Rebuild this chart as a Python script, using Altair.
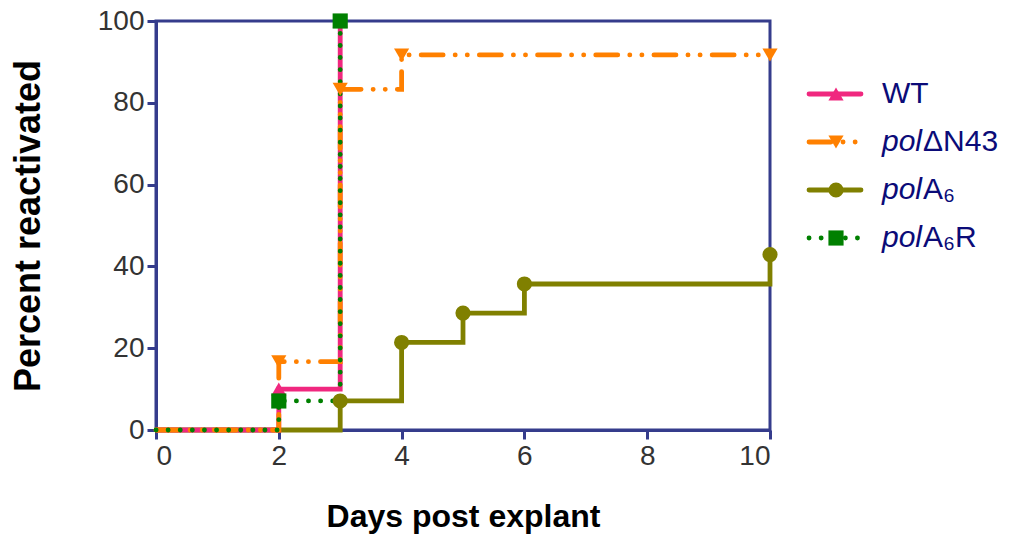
import altair as alt
import pandas as pd

# ---- data ----
series_order = ["WT", "polΔN43", "polA6", "polA6R"]
days_wt = [0, 2, 3]
pct_wt = [0, 10, 100]
days_dn43 = [0, 2, 3, 4, 10]
pct_dn43 = [0, 16.7, 83.3, 91.7, 91.7]
days_a6 = [0, 3, 4, 5, 6, 10]
pct_a6 = [0, 7.1, 21.4, 28.6, 35.7, 42.9]
days_a6r = [0, 2, 3]
pct_a6r = [0, 7.1, 100]

legend_prefix = ["", "pol", "pol", "pol"]
legend_rest = ["WT", "ΔN43", "A₆", "A₆R"]

colors = ["#F0287F", "#FF8000", "#808000", "#008000"]
dashes = [[1, 0], [22, 12, 0.1, 12, 0.1, 12], [1, 0], [0.1, 12]]
shapes = ["triangle-up", "triangle-down", "circle", "square"]

FONT = "Liberation Sans"
NAVY = "#353C8C"

rows = []
for name, dd, pp in [("WT", days_wt, pct_wt), ("polΔN43", days_dn43, pct_dn43),
                     ("polA6", days_a6, pct_a6), ("polA6R", days_a6r, pct_a6r)]:
    for d, p in zip(dd, pp):
        rows.append({"series": name, "day": d, "pct": p})
df = pd.DataFrame(rows)

color_scale = alt.Scale(domain=series_order, range=colors)
dash_scale = alt.Scale(domain=series_order, range=dashes)
shape_scale = alt.Scale(domain=series_order, range=shapes)

x_enc = alt.X("day:Q", scale=alt.Scale(domain=[0, 10], nice=False),
              axis=alt.Axis(values=[0, 2, 4, 6, 8, 10], title="Days post explant",
                            titleFontSize=32))
y_enc = alt.Y("pct:Q", scale=alt.Scale(domain=[0, 100], nice=False),
              axis=alt.Axis(values=[0, 20, 40, 60, 80, 100], title="Percent reactivated",
                            titleFontSize=36))

base = alt.Chart(df)
draw_order = ["polA6", "WT", "polΔN43", "polA6R"]
line_layers = []
for s in draw_order:
    line_layers.append(
        base.transform_filter(alt.datum.series == s).mark_line(
            interpolate="step-after", strokeWidth=4.8, strokeCap="round", strokeJoin="miter"
        ).encode(
            x=x_enc, y=y_enc,
            color=alt.Color("series:N", scale=color_scale, legend=None),
            strokeDash=alt.StrokeDash("series:N", scale=dash_scale, legend=None),
        )
    )
point_layers = []
for s in draw_order:
    point_layers.append(
        base.transform_filter((alt.datum.series == s) & (alt.datum.day > 0)).mark_point(
            filled=True, size=230, opacity=1
        ).encode(
            x=x_enc, y=y_enc,
            color=alt.Color("series:N", scale=color_scale, legend=None),
            shape=alt.Shape("series:N", scale=shape_scale, legend=None),
        )
    )

main = alt.layer(*line_layers, *point_layers).properties(width=614, height=409)

# ---- custom legend ----
leg_df = pd.DataFrame({"series": series_order, "prefix": legend_prefix, "rest": legend_rest})
ly = alt.Y("series:N", scale=alt.Scale(type="point", domain=series_order, range=[73, 217],
                                       padding=0), axis=None)
lbase = alt.Chart(leg_df)
leg_line = lbase.mark_rule(strokeWidth=4.8, strokeCap="round").encode(
    x=alt.value(15), x2=alt.value(67), y=ly,
    color=alt.Color("series:N", scale=color_scale, legend=None),
    strokeDash=alt.StrokeDash("series:N", scale=dash_scale, legend=None),
)
leg_pt = lbase.mark_point(filled=True, size=230, opacity=1).encode(
    x=alt.value(42), y=ly,
    color=alt.Color("series:N", scale=color_scale, legend=None),
    shape=alt.Shape("series:N", scale=shape_scale, legend=None),
)
TXT = "#0B0B78"
leg_pre = lbase.transform_filter(alt.datum.prefix != "").mark_text(
    align="left", baseline="middle", font=FONT, fontSize=30, fontStyle="italic", color=TXT
).encode(x=alt.value(88), y=ly, text="prefix:N")
leg_rest_plain = lbase.transform_filter(alt.datum.prefix == "").mark_text(
    align="left", baseline="middle", font=FONT, fontSize=30, color=TXT
).encode(x=alt.value(88), y=ly, text="rest:N")
leg_rest = lbase.transform_filter(alt.datum.prefix != "").mark_text(
    align="left", baseline="middle", font=FONT, fontSize=30, color=TXT
).encode(x=alt.value(129), y=ly, text="rest:N")

legend = alt.layer(leg_line, leg_pt, leg_pre, leg_rest_plain, leg_rest).properties(
    width=200, height=409, view=alt.ViewConfig(stroke=None)
)

chart = alt.hconcat(main, legend, spacing=12).properties(
    padding={"left": 8, "top": 5, "right": 0, "bottom": 5}
).configure_view(
    stroke=NAVY, strokeWidth=3
).configure_axis(
    domainColor=NAVY, domainWidth=3, tickColor=NAVY, tickWidth=3, tickSize=9,
    grid=False, labelFont=FONT, labelFontSize=28, labelColor="#333333",
    titleFont=FONT, titleFontWeight="bold", titleColor="#000000",
).configure_axisX(
    labelPadding=3, titlePadding=31,
).configure_axisY(
    labelPadding=3, titlePadding=50,
)

chart.save("out.html", embed_options={"renderer": "svg", "actions": False})
